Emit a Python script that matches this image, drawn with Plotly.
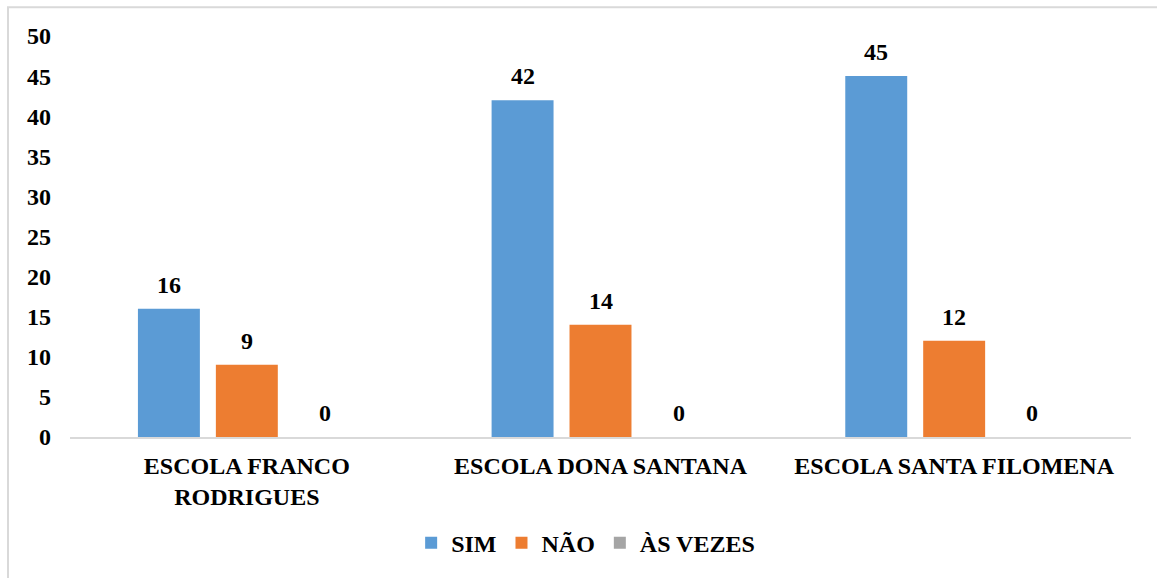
import plotly.graph_objects as go

categories = ["ESCOLA FRANCO<br>RODRIGUES", "ESCOLA DONA SANTANA", "ESCOLA SANTA FILOMENA"]
series_names = ["SIM", "NÃO", "ÀS VEZES"]
sim = [16, 42, 45]
nao = [9, 14, 12]
as_vezes = [0, 0, 0]
colors = ["#5B9BD5", "#ED7D31", "#A5A5A5"]
y_ticks = [0, 5, 10, 15, 20, 25, 30, 35, 40, 45, 50]

FONT = "Liberation Serif"
FS = 24
series = [sim, nao, as_vezes]

fig = go.Figure()
for name, vals, col in zip(series_names, series, colors):
    fig.add_trace(go.Bar(x=categories, y=vals, name=f"<b>{name}</b>",
                         marker=dict(color=col, line=dict(width=0))))

# data labels
slot = 78
for i, vals in enumerate(series):
    for cat, v in zip(categories, vals):
        fig.add_annotation(x=cat, y=v, text=f"<b>{v}</b>", showarrow=False,
                           xshift=(i - 1) * slot, yanchor="bottom", yshift=9,
                           font=dict(family=FONT, size=FS, color="black"))

W, H = 1157, 578
l, r, t, b = 70, 26, 36, 138
pw = W - l - r
ph = H - t - b
# chart border (light gray frame)
fig.add_shape(type="rect", xref="paper", yref="paper",
              x0=(8 - l) / pw, x1=(1170 - l) / pw,
              y0=-(590 - (H - b)) / ph, y1=1 + (t - 7) / ph,
              line=dict(color="#D9D9D9", width=2), fillcolor="rgba(0,0,0,0)", layer="below")

fig.update_layout(
    width=W, height=H,
    margin=dict(l=l, r=r, t=t, b=b),
    barmode="group", bargap=0.339, bargroupgap=0.205,
    plot_bgcolor="white", paper_bgcolor="white",
    font=dict(family=FONT, size=FS, color="black"),
    showlegend=True,
    legend=dict(orientation="h", x=0.486, xanchor="center", y=-0.265, yanchor="middle",
                font=dict(family=FONT, size=FS, color="black"), itemwidth=30,
                traceorder="normal"),
    xaxis=dict(showline=True, linecolor="#D9D9D9", linewidth=2, ticks="", showgrid=False,
               tickfont=dict(family=FONT, size=FS, color="black"),
               ticklabelstandoff=6),
    yaxis=dict(range=[0, 50], tickvals=y_ticks, ticktext=[f"<b>{v}</b>" for v in y_ticks],
               showgrid=False, zeroline=False, showline=False,
               ticks="", tickfont=dict(family=FONT, size=FS, color="black"),
               ticklabelstandoff=18),
)
fig.update_xaxes(tickvals=categories, ticktext=[f"<b>{c}</b>" for c in categories])

fig.write_html("out.html")
